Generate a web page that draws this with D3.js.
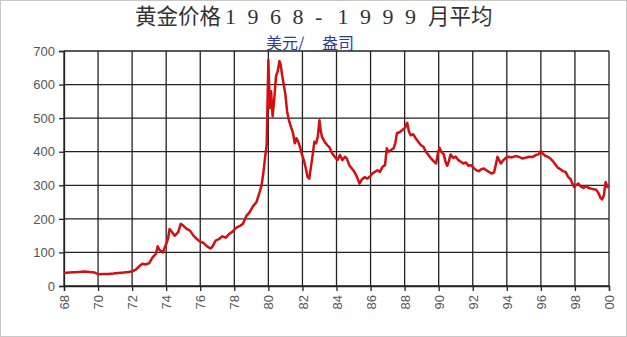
<!DOCTYPE html>
<html>
<head>
<meta charset="utf-8">
<script src="https://cdn.jsdelivr.net/npm/d3@7"></script>
<style>
  body { margin: 0; background: #fff; }
  svg { display: block; }
</style>
</head>
<body>
<script>
var width = 627,
    height = 337;

// monthly-ish samples (year offset from 1900, USD/oz)
var years = [68.0, 68.3, 68.6, 68.9, 69.2, 69.5, 69.8, 70.0, 70.3, 70.6, 70.9, 71.2, 71.5, 71.8,
  72.0, 72.2, 72.4, 72.6, 72.8, 73.0, 73.2, 73.4, 73.5, 73.6, 73.8, 74.0, 74.1, 74.2, 74.35, 74.5,
  74.7, 74.85, 75.0, 75.2, 75.4, 75.6, 75.8, 76.0, 76.2, 76.4, 76.6, 76.7, 76.9, 77.1, 77.3, 77.5,
  77.7, 77.9, 78.1, 78.3, 78.5, 78.7, 78.9, 79.1, 79.3, 79.5, 79.6, 79.7, 79.8, 79.9, 80.0, 80.08,
  80.16, 80.25, 80.35, 80.45, 80.55, 80.65, 80.72, 80.8, 80.9, 81.0, 81.1, 81.2, 81.35, 81.45,
  81.55, 81.65, 81.75, 81.85, 81.95, 82.08, 82.2, 82.3, 82.4, 82.5, 82.6, 82.7, 82.8, 82.9, 83.0,
  83.08, 83.15, 83.3, 83.45, 83.6, 83.75, 83.9, 84.05, 84.2, 84.35, 84.5, 84.6, 84.75, 84.9, 85.05,
  85.2, 85.35, 85.5, 85.65, 85.8, 85.95, 86.1, 86.25, 86.4, 86.55, 86.7, 86.85, 86.95, 87.05, 87.2,
  87.35, 87.45, 87.55, 87.7, 87.85, 88.0, 88.15, 88.25, 88.35, 88.5, 88.65, 88.8, 88.95, 89.1,
  89.25, 89.4, 89.55, 89.7, 89.85, 89.95, 90.05, 90.15, 90.3, 90.4, 90.5, 90.6, 90.7, 90.85, 91.0,
  91.15, 91.3, 91.45, 91.6, 91.75, 91.9, 92.05, 92.2, 92.35, 92.5, 92.65, 92.8, 92.95, 93.1, 93.25,
  93.35, 93.45, 93.55, 93.65, 93.8, 93.95, 94.1, 94.3, 94.5, 94.7, 94.9, 95.1, 95.3, 95.5, 95.7,
  95.85, 96.0, 96.1, 96.25, 96.4, 96.55, 96.7, 96.85, 97.0, 97.15, 97.3, 97.45, 97.6, 97.75, 97.85,
  97.95, 98.05, 98.2, 98.35, 98.5, 98.65, 98.8, 98.95, 99.1, 99.25, 99.4, 99.5, 99.6, 99.7, 99.8,
  99.9, 100.0];

var prices = [39, 40, 41, 42, 43, 42, 40, 35, 36, 36, 37, 39, 40, 42,
  44, 48, 58, 66, 64, 68, 85, 96, 118, 108, 100, 125, 140, 170, 160, 150,
  160, 185, 180, 170, 165, 150, 140, 132, 128, 118, 112, 116, 135, 140, 148, 144,
  155, 162, 173, 178, 185, 208, 220, 238, 250, 282, 300, 335, 380, 420, 673, 530,
  580, 505, 560, 625, 640, 670, 660, 630, 600, 570, 520, 495, 470, 455,
  425, 440, 430, 415, 395, 375, 350, 325, 320, 355, 390, 430, 425, 445, 494,
  460, 444, 430, 420, 412, 395, 385, 375, 390, 375, 385, 380, 360, 350, 340,
  325, 305, 318, 324, 320, 325, 335, 340, 345, 340, 355, 360, 410, 400, 405,
  410, 425, 455, 458, 464, 470, 486, 460, 449, 452, 440, 430, 420, 415,
  400, 390, 380, 372, 365, 395, 412, 400, 392, 370, 358, 372, 392, 382, 385,
  375, 370, 365, 368, 358, 360, 352, 345, 342, 348, 350, 345, 340, 335, 338,
  360, 385, 375, 365, 375, 382, 385, 383, 387, 385, 380, 382, 385, 384, 390,
  392, 402, 395, 388, 385, 380, 372, 362, 352, 348, 342, 340, 325, 318, 305,
  295, 300, 305, 296, 292, 298, 292, 290, 288, 287, 275, 262, 258, 270, 310,
  295, 300];

var xTickValues = [68, 70, 72, 74, 76, 78, 80, 82, 84, 86, 88, 90, 92, 94, 96, 98, 100];
var xTickLabels = ["68", "70", "72", "74", "76", "78", "80", "82", "84", "86", "88", "90", "92", "94", "96", "98", "00"];
var yTickValues = [0, 100, 200, 300, 400, 500, 600, 700];

var margin = {top: 51, right: 18, bottom: 51, left: 64};
var plotW = width - margin.left - margin.right,
    plotH = height - margin.top - margin.bottom;

var svg = d3.select("body").append("svg")
    .attr("width", width)
    .attr("height", height);

svg.append("rect")
    .attr("x", 0.5).attr("y", 0.5)
    .attr("width", width - 1).attr("height", height - 1)
    .attr("fill", "#fff")
    .attr("stroke", "#c8c8c8");

var x = d3.scaleLinear().domain([68, 100]).range([0, plotW]);
var y = d3.scaleLinear().domain([0, 700]).range([plotH, 0]);

var g = svg.append("g")
    .attr("transform", "translate(" + margin.left + "," + margin.top + ")");

// grid
g.selectAll(".hgrid")
  .data(yTickValues)
  .enter().append("line")
    .attr("class", "hgrid")
    .attr("x1", 0).attr("x2", plotW)
    .attr("y1", function(d) { return y(d); })
    .attr("y2", function(d) { return y(d); })
    .attr("stroke", "#222").attr("stroke-width", 1.3);

g.selectAll(".vgrid")
  .data(xTickValues)
  .enter().append("line")
    .attr("class", "vgrid")
    .attr("y1", 0).attr("y2", plotH)
    .attr("x1", function(d) { return x(d); })
    .attr("x2", function(d) { return x(d); })
    .attr("stroke", "#222").attr("stroke-width", 1.3);

// axes
var yAxis = g.append("g")
    .call(d3.axisLeft(y).tickValues(yTickValues).tickSize(5).tickPadding(4));

var xAxis = g.append("g")
    .attr("transform", "translate(0," + plotH + ")")
    .call(d3.axisBottom(x).tickValues(xTickValues).tickSize(5)
      .tickFormat(function(d, i) { return xTickLabels[i]; }));

xAxis.selectAll("text")
    .attr("transform", "rotate(-90)")
    .attr("text-anchor", "end")
    .attr("x", -9)
    .attr("y", 0)
    .attr("dy", "0.35em");

[xAxis, yAxis].forEach(function(a) {
  a.select(".domain").attr("stroke", "#222").attr("stroke-width", 1.3);
  a.selectAll(".tick line").attr("stroke", "#222").attr("stroke-width", 1.3);
  a.selectAll("text")
    .attr("fill", "#555")
    .style("font-family", "'Liberation Sans', Arial, sans-serif")
    .style("font-size", "13px");
});

// gold price line
var line = d3.line()
    .x(function(d, i) { return x(years[i]); })
    .y(function(d) { return y(d); });

g.append("path")
    .datum(prices)
    .attr("fill", "none")
    .attr("stroke", "#d40f0f")
    .attr("stroke-width", 2.5)
    .attr("stroke-linejoin", "round")
    .attr("d", line);

// titles
var titleFont = "'Noto Sans CJK SC', sans-serif";

svg.append("text")
    .attr("x", 135).attr("y", 24)
    .attr("fill", "#333")
    .style("font-family", titleFont)
    .style("font-size", "21.5px")
    .text("黄金价格");

var digits = "1968-1999".split("");
svg.append("text")
    .attr("x", digits.map(function(c, i) { return 225 + i * 22.5; }).join(" "))
    .attr("y", 24)
    .attr("fill", "#333")
    .style("font-family", "'Liberation Serif', serif")
    .style("font-size", "22px")
    .text(digits.join(""));

svg.append("text")
    .attr("x", 428).attr("y", 24)
    .attr("fill", "#333")
    .style("font-family", titleFont)
    .style("font-size", "21.5px")
    .text("月平均");

var sub = svg.append("text")
    .attr("y", 48.5)
    .attr("fill", "#2b3b9e")
    .style("font-family", titleFont)
    .style("font-size", "16px");
sub.append("tspan").attr("x", 266).text("美元/");
sub.append("tspan").attr("x", 322).text("盎司");
</script>
</body>
</html>
